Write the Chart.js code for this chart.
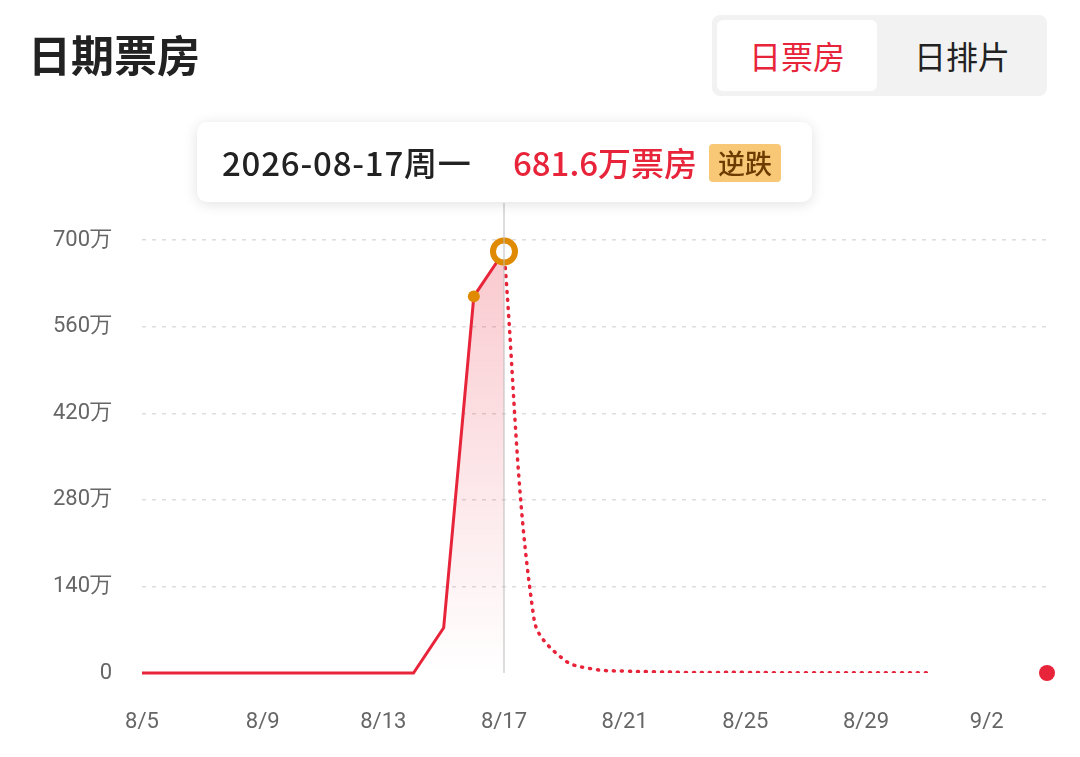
<!DOCTYPE html>
<html><head><meta charset="utf-8">
<script src="https://cdn.jsdelivr.net/npm/chart.js@4"></script>
<style>
body{margin:0;width:1080px;height:757px;background:#fff;font-family:"Noto Sans CJK SC","Noto Sans",sans-serif;position:relative;overflow:hidden}
#c{position:absolute;left:0;top:0}
.title{position:absolute;left:28px;top:22px;font-size:43px;font-weight:bold;color:#222}
.tog{position:absolute;left:712px;top:15px;width:335px;height:81px;background:#f2f2f2;border-radius:8px}
.tog .on{position:absolute;left:5px;top:5px;width:160px;height:71px;background:#fff;border-radius:6px;color:#e8243a;font-size:32px;line-height:71px;text-align:center}
.tog .off{position:absolute;left:170px;top:5px;width:160px;height:71px;color:#222;font-size:32px;line-height:71px;text-align:center}
.tip{position:absolute;left:197px;top:122px;width:615px;height:80px;background:#fff;border-radius:10px;box-shadow:0 2px 14px rgba(0,0,0,0.12);font-size:33px;font-weight:500;line-height:80px;color:#222;white-space:nowrap}
.tip .d{position:absolute;left:25px;letter-spacing:0.8px}
.tip .v{position:absolute;left:316px;color:#e8243a}
.tip .b{position:absolute;left:512px;top:22px;height:38px;line-height:38px;padding:0 9px;background:#f8c877;color:#6b3b00;border-radius:4px;font-size:27px}
</style></head><body>
<canvas id="c" width="1080" height="757"></canvas>
<div class="title">日期票房</div>
<div class="tog"><div class="on">日票房</div><div class="off">日排片</div></div>
<div class="tip"><span class="d">2026-08-17周一</span><span class="v">681.6万票房</span><span class="b">逆跌</span></div>
<script>
const labels=["8/5","8/6","8/7","8/8","8/9","8/10","8/11","8/12","8/13","8/14","8/15","8/16","8/17","8/18","8/19","8/20","8/21","8/22","8/23","8/24","8/25","8/26","8/27","8/28","8/29","8/30","8/31","9/1","9/2","9/3","9/4"];
const actual=[0,0,0,0,0,0,0,0,0,0,73,609,681.6];
const forecast=[null,null,null,null,null,null,null,null,null,null,null,null,681.6,86,21,6,3,2,1,1,1,0.5,0.5,0.5,0.5,0.5,0.5];
const endPoint=[];endPoint[30]=0;
const yTicks=[0,140,280,420,560,700];
const red="#e8243a",orange="#e08a00";
const cross={id:'cross',afterDatasetsDraw(c){const x=c.scales.x.getPixelForValue(12),a=c.chartArea,ctx=c.ctx;ctx.save();ctx.strokeStyle="#bbb";ctx.lineWidth=1;ctx.beginPath();ctx.moveTo(x,a.top);ctx.lineTo(x,a.bottom);ctx.stroke();ctx.restore();}};
new Chart(document.getElementById('c'),{type:'line',
data:{labels,datasets:[
{data:actual,borderColor:red,borderWidth:3,tension:0,fill:'origin',clip:false,
 backgroundColor:(ctx)=>{const ch=ctx.chart,a=ch.chartArea;if(!a)return 'rgba(232,36,58,0.2)';const g=ch.ctx.createLinearGradient(0,a.top+40,0,a.bottom);g.addColorStop(0,'rgba(232,36,58,0.25)');g.addColorStop(1,'rgba(232,36,58,0.0)');return g;},
 pointRadius:(c)=>c.dataIndex==11?6:(c.dataIndex==12?11:0),
 pointBackgroundColor:(c)=>c.dataIndex==12?'#fff':orange,
 pointBorderColor:orange,pointBorderWidth:(c)=>c.dataIndex==12?6:0},
{data:forecast,borderColor:red,borderWidth:3.5,borderDash:[1,7],borderCapStyle:'round',tension:0.35,pointRadius:0,fill:false},
{data:endPoint,pointRadius:8,pointBackgroundColor:red,pointBorderWidth:0,showLine:false,clip:false}
]},
options:{responsive:false,animation:false,
layout:{padding:{top:203,right:33,left:0,bottom:0}},
plugins:{legend:{display:false},tooltip:{enabled:false}},
scales:{
x:{offset:false,grid:{display:false},border:{display:false},
 afterFit(s){s.height=84;},
 ticks:{autoSkip:false,maxRotation:0,padding:28,color:'#666',font:{size:22,family:'Roboto'},callback:(v,i)=>i%4==0&&i<30?labels[i]:''}},
y:{min:0,max:760,border:{display:false,dash:[4,6]},
 afterFit(s){s.width=142;},
 afterBuildTicks(s){s.ticks=yTicks.map(v=>({value:v}));},
 grid:{color:(c)=>c.tick&&c.tick.value==0?'rgba(0,0,0,0)':'#dddddd',lineWidth:1.5,drawTicks:false},
 ticks:{padding:30,color:'#666',font:{size:22,family:'Roboto'},callback:(v)=>v==0?'0':v+'万'}}
}},plugins:[cross]});
</script></body></html>
